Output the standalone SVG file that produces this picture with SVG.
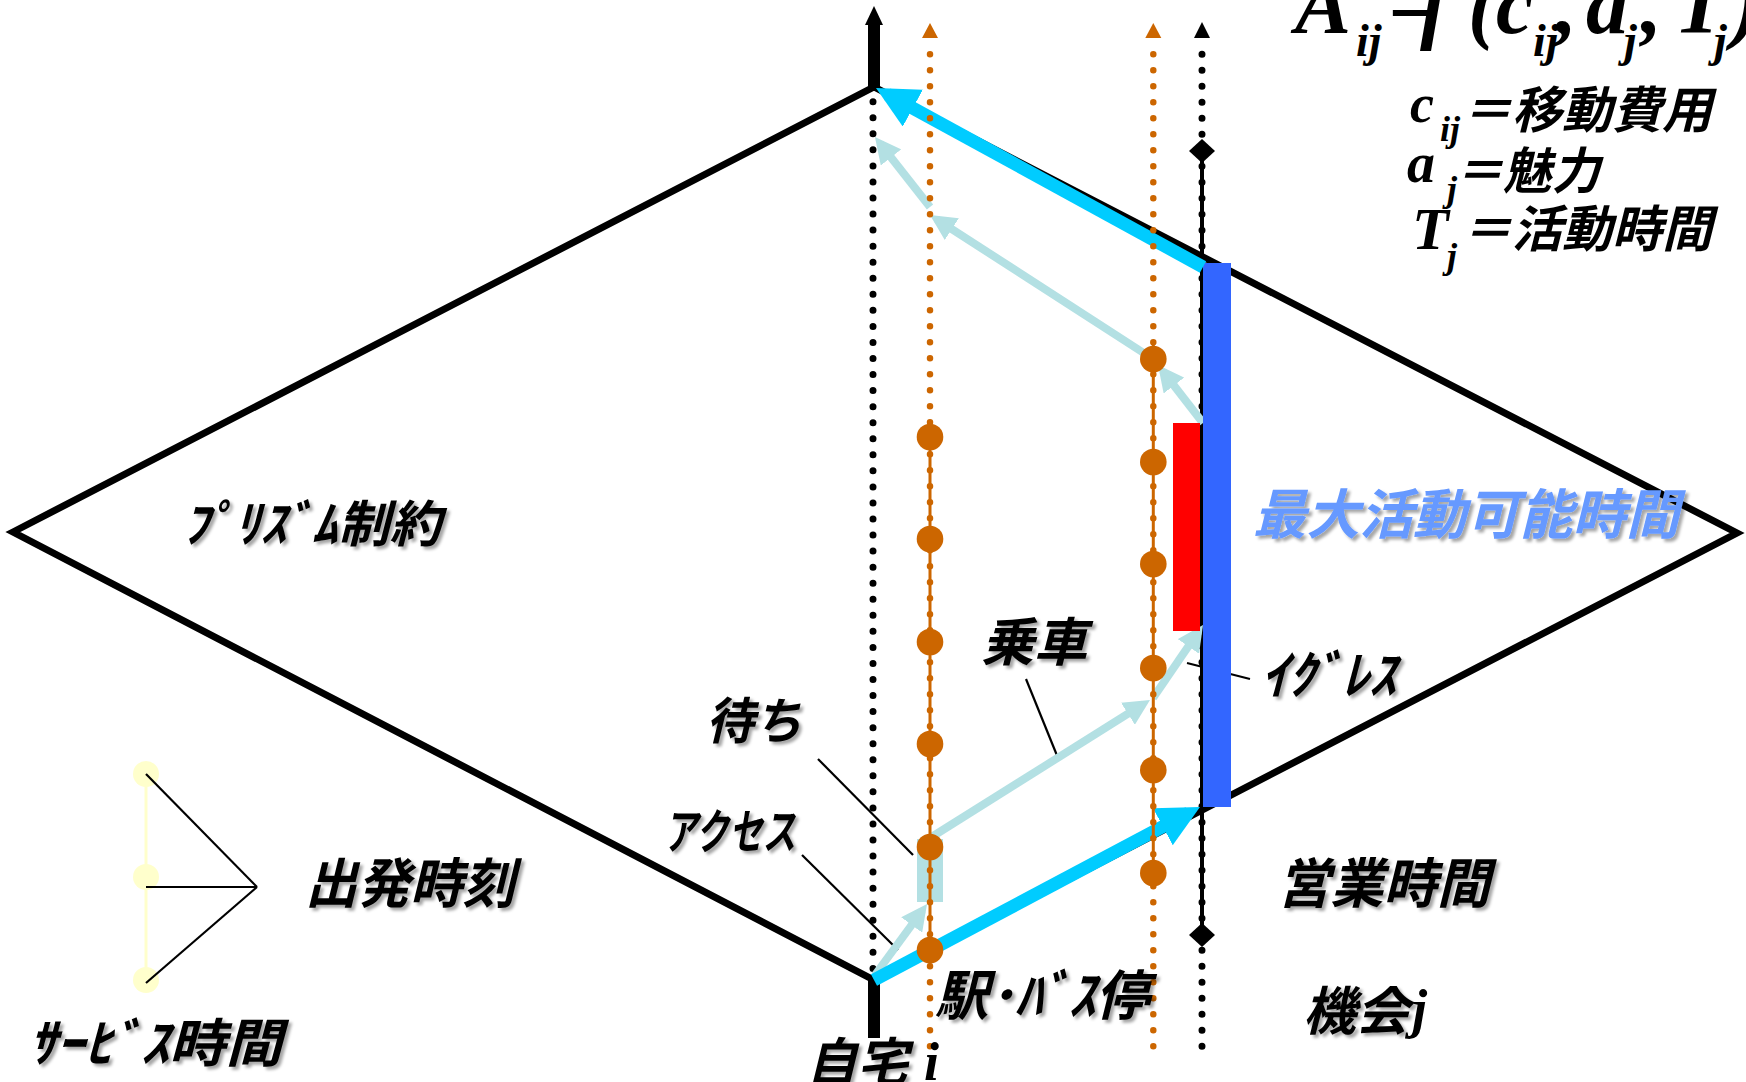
<svg xmlns="http://www.w3.org/2000/svg" width="1746" height="1082" viewBox="0 0 1746 1082">
<style>
.jp{font-family:"Noto Sans CJK JP","Noto Sans",sans-serif;font-weight:bold;font-style:italic;fill:#000;filter:url(#sh)}
.m{font-family:"Liberation Serif","Times New Roman",serif;font-weight:bold;font-style:italic;fill:#000}
.mj{font-family:"Noto Sans CJK JP",sans-serif;font-weight:bold;font-style:italic;fill:#000}
.bdot{stroke:#000;stroke-width:7;stroke-linecap:round;fill:none}
.odot{stroke:#CC6600;stroke-width:6.5;stroke-linecap:round;stroke-dasharray:0 16;fill:none}
.lead{stroke:#000;stroke-width:2.2;fill:none}
.lb{stroke:#B3E0E3;stroke-width:8;fill:none;marker-end:url(#mlb)}
.cy{stroke:#00CCFF;stroke-width:13;fill:none;marker-end:url(#mcy)}
.big{fill:#CC6600}
</style>
<defs>
<filter id="sh" x="-10%" y="-20%" width="130%" height="150%">
<feDropShadow dx="3" dy="3" stdDeviation="1.5" flood-color="#000" flood-opacity="0.35"/>
</filter>
<marker id="mlb" markerUnits="userSpaceOnUse" markerWidth="26" markerHeight="26" viewBox="0 0 26 26" refX="18" refY="13" orient="auto">
<path d="M0,0 L26,13 L0,26 z" fill="#B3E0E3"/>
</marker>
<marker id="mcy" markerUnits="userSpaceOnUse" markerWidth="42" markerHeight="42" viewBox="0 0 42 42" refX="29" refY="21" orient="auto">
<path d="M0,0 L42,21 L0,42 z" fill="#00CCFF"/>
</marker>
</defs>
<rect width="1746" height="1082" fill="#fff"/>

<g id="prism">
<polygon points="13,532 874,87 1737,533 874,980" fill="none" stroke="#000" stroke-width="7" stroke-linejoin="miter"/>
</g>

<g id="home-axis">
<rect x="868" y="24" width="12" height="64" fill="#000"/>
<polygon points="874,6 883,25 865,25" fill="#000"/>
<rect x="868" y="978" width="12" height="60" fill="#000"/>
<line x1="873" y1="101.7" x2="873" y2="968.4" class="bdot" style="stroke-dasharray:0 16.05"/>
</g>

<g id="opportunity-axis">
<line x1="1202" y1="54.3" x2="1202" y2="1046.3" class="bdot" style="stroke-dasharray:0 16"/>
<polygon points="1202,22 1210,38 1194,38" fill="#000"/>
<line x1="1202" y1="151" x2="1202" y2="935" stroke="#000" stroke-width="4"/>
<polygon points="1202,139 1215,151 1202,163 1189,151" fill="#000"/>
<polygon points="1202,923 1215,935 1202,947 1189,935" fill="#000"/>
</g>

<g id="connectors">
<line x1="1026" y1="679" x2="1058" y2="758" class="lead"/>
<line x1="818" y1="759" x2="913" y2="855" class="lead"/>
<line x1="802" y1="855" x2="898" y2="950" class="lead"/>
<line x1="1187" y1="663" x2="1250" y2="679" class="lead"/>
<rect x="917" y="839" width="26" height="63" fill="#B3E0E3"/>
<line x1="875" y1="975" x2="922.3" y2="910.5" class="lb"/>
<line x1="930" y1="838" x2="1143.2" y2="704.2" class="lb"/>
<line x1="1153" y1="698" x2="1198.5" y2="631.6" class="lb"/>
<line x1="1203" y1="423" x2="1162.9" y2="371.3" class="lb"/>
<line x1="1153" y1="359" x2="936.7" y2="219.3" class="lb"/>
<line x1="930" y1="207" x2="879.9" y2="143.3" class="lb"/>
</g>

<g id="activity">
<rect x="1173" y="423" width="27" height="208" fill="#FF0000"/>
<rect x="1203" y="263" width="28" height="544" fill="#3366FF"/>
</g>

<g id="prism-arrows">
<line x1="1203" y1="267" x2="887.4" y2="94.2" class="cy"/>
<line x1="874" y1="980" x2="1188.5" y2="813.1" class="cy"/>
</g>

<g id="station-line-1">
<line x1="930" y1="54.3" x2="930" y2="1046.3" class="odot"/>
<polygon points="930,23 938,38 922,38" fill="#CC6600"/>
<line x1="930" y1="422" x2="930" y2="965" stroke="#CC6600" stroke-width="3"/>
<circle cx="930" cy="437" r="13.3" class="big"/>
<circle cx="930" cy="539" r="13.3" class="big"/>
<circle cx="930" cy="642" r="13.3" class="big"/>
<circle cx="930" cy="744" r="13.3" class="big"/>
<circle cx="930" cy="847" r="13.3" class="big"/>
<circle cx="930" cy="950" r="13.3" class="big"/>
</g>

<g id="station-line-2">
<line x1="1153.3" y1="54.3" x2="1153.3" y2="1046.3" class="odot"/>
<polygon points="1153.3,23 1161.3,38 1145.3,38" fill="#CC6600"/>
<line x1="1153.3" y1="342" x2="1153.3" y2="887" stroke="#CC6600" stroke-width="3"/>
<circle cx="1153.3" cy="359" r="13.3" class="big"/>
<circle cx="1153.3" cy="462" r="13.3" class="big"/>
<circle cx="1153.3" cy="564" r="13.3" class="big"/>
<circle cx="1153.3" cy="668" r="13.3" class="big"/>
<circle cx="1153.3" cy="770" r="13.3" class="big"/>
<circle cx="1153.3" cy="873" r="13.3" class="big"/>
</g>

<g id="legend">
<line x1="146" y1="774" x2="146" y2="980" stroke="#FFFFCC" stroke-width="3"/>
<circle cx="146" cy="774" r="13" fill="#FFFFCC"/>
<circle cx="146" cy="877" r="13" fill="#FFFFCC"/>
<circle cx="146" cy="980" r="13" fill="#FFFFCC"/>
<line x1="146" y1="774" x2="257" y2="887" class="lead"/>
<line x1="146" y1="887" x2="257" y2="887" class="lead"/>
<line x1="146" y1="983" x2="257" y2="887" class="lead"/>
<text class="jp" x="305" y="903" font-size="54" textLength="210" lengthAdjust="spacingAndGlyphs">出発時刻</text>
<text class="jp" x="28" y="1062" font-size="52" textLength="254" lengthAdjust="spacingAndGlyphs">ｻｰﾋﾞｽ時間</text>
</g>

<g id="formula">
<text class="m" font-size="84" y="33"><tspan x="1295">A</tspan><tspan x="1356" y="56" font-size="46">ij</tspan><tspan x="1388" y="33">=</tspan><tspan x="1420">f</tspan><tspan x="1468">(</tspan><tspan x="1496">c</tspan><tspan x="1533" y="56" font-size="46">ij</tspan><tspan x="1556" y="33">,</tspan><tspan x="1586">a</tspan><tspan x="1624" y="56" font-size="46">j</tspan><tspan x="1641" y="33">,</tspan><tspan x="1674">T</tspan><tspan x="1714" y="56" font-size="46">j</tspan><tspan x="1732" y="33">)</tspan></text>
<text class="m" font-size="54" x="1410" y="122">c<tspan x="1440" y="141" font-size="36">ij</tspan></text>
<text class="mj" x="1462" y="128" font-size="50" textLength="250" lengthAdjust="spacingAndGlyphs">＝移動費用</text>
<text class="m" font-size="56" x="1407" y="182">a<tspan x="1447" y="201" font-size="36">j</tspan></text>
<text class="mj" x="1455" y="189" font-size="50" textLength="145" lengthAdjust="spacingAndGlyphs">＝魅力</text>
<text class="m" font-size="60" x="1412" y="249">T<tspan x="1447" y="268" font-size="36">j</tspan></text>
<text class="mj" x="1462" y="247" font-size="50" textLength="250" lengthAdjust="spacingAndGlyphs">＝活動時間</text>
</g>

<g id="labels">
<text class="jp" x="183" y="542" font-size="50" textLength="258" lengthAdjust="spacingAndGlyphs">ﾌﾟﾘｽﾞﾑ制約</text>
<text class="jp" x="1253" y="534" font-size="54" textLength="426" lengthAdjust="spacingAndGlyphs" style="fill:#6699FF">最大活動可能時間</text>
<text class="jp" x="1261" y="694" font-size="52" textLength="135" lengthAdjust="spacingAndGlyphs">ｲｸﾞﾚｽ</text>
<text class="jp" x="981" y="661" font-size="52" textLength="106" lengthAdjust="spacingAndGlyphs">乗車</text>
<text class="jp" x="706" y="739" font-size="50" textLength="96" lengthAdjust="spacingAndGlyphs">待ち</text>
<text class="jp" x="664" y="849" font-size="48" textLength="132" lengthAdjust="spacingAndGlyphs">アクセス</text>
<text class="jp" x="935" y="1015" font-size="54" textLength="214" lengthAdjust="spacingAndGlyphs">駅･ﾊﾞｽ停</text>
<text class="jp" x="1277" y="903" font-size="54" textLength="213" lengthAdjust="spacingAndGlyphs">営業時間</text>
<text class="jp" x="806" y="1081" font-size="52" textLength="102" lengthAdjust="spacingAndGlyphs">自宅</text>
<text class="m" x="924" y="1080" font-size="54">i</text>
<text class="jp" x="1303" y="1030" font-size="52" textLength="106" lengthAdjust="spacingAndGlyphs">機会</text>
<text class="m" x="1412" y="1027" font-size="54">j</text>
</g>
</svg>
